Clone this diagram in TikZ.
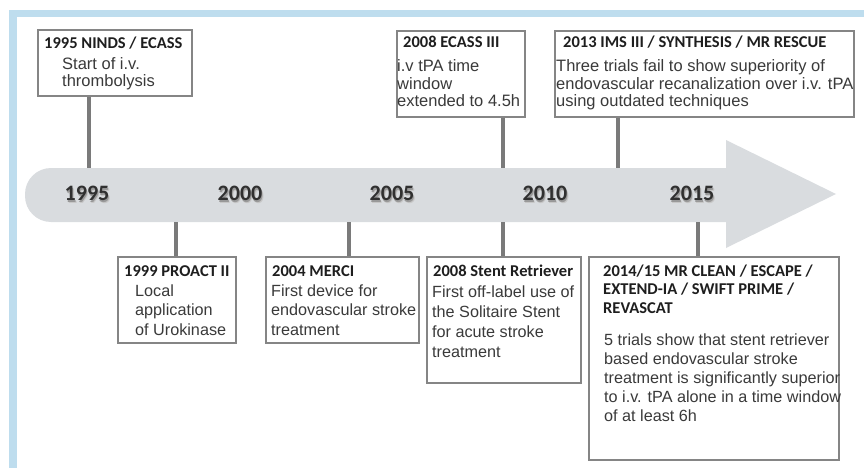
\documentclass[tikz,border=0pt]{standalone}
\usepackage{fontspec}
\setmainfont{Liberation Sans}
\newfontfamily\calib{Carlito}
\definecolor{frameblue}{HTML}{BEDDEE}
\definecolor{barfill}{HTML}{D9DCDF}
\definecolor{boxgray}{HTML}{858585}
\definecolor{stemgray}{HTML}{7A7A7A}
\definecolor{titlec}{HTML}{1E1E1E}
\definecolor{bodyc}{HTML}{3A3A3A}
\definecolor{yearc}{HTML}{303030}
\newcommand\btxt[1]{\parbox[t]{320pt}{\raggedright #1}}
\newcommand\yrshadow[1]{\rlap{\kern1.6pt\raisebox{-2.8pt}{\textcolor{black!22}{#1}}}\rlap{\kern0.8pt\raisebox{-1.4pt}{\textcolor{black!40}{#1}}}#1}
\tikzset{
  boxst/.style={draw=boxgray, line width=1.6pt, fill=white, inner sep=0pt, anchor=north west},
  ttl/.style={font=\calib\bfseries\fontsize{16.5}{19}\selectfont, text=titlec, inner sep=0pt, anchor=base west},
  bdy/.style={font=\fontsize{16.2}{#1}\selectfont, text=bodyc, inner sep=0pt, anchor=base west},
  bdy/.default=19.5,
  bdyt/.style={font=\fontsize{16.5}{#1}\selectfont, text=bodyc, inner sep=0pt, anchor=base west},
  stem/.style={draw=stemgray, line width=4.5pt},
  yr/.style={font=\calib\bfseries\fontsize{22}{22}\selectfont, text=yearc, inner sep=0pt},
}
\begin{document}
\begin{tikzpicture}[x=1pt,y=-1pt]
\useasboundingbox (0,0) rectangle (864,468);
% frame
\fill[frameblue] (9,10) rectangle (864,17);
\fill[frameblue] (9,10) rectangle (17,468);
% timeline arrow
\fill[barfill, rounded corners=26pt] (25,168) rectangle (760,222);
\fill[barfill] (726,140) -- (836,194) -- (726,248) -- cycle;
% bar coordinates
\coordinate (t1995) at (89,168);
\coordinate (t2008u) at (503,168);
\coordinate (t2013) at (618,168);
\coordinate (b1999) at (176,222);
\coordinate (b2004) at (349,222);
\coordinate (b2008) at (503,222);
\coordinate (b2015) at (698,222);
% years
\foreach \y/\x in {1995/87,2000/240,2005/392,2010/545,2015/692}{
  \node[yr] (y\y) at (\x,195) {\yrshadow{\y}};
}
% boxes
\node[boxst, minimum width=154pt, minimum height=66pt] (bx1995) at (37,29) {};
\node[boxst, minimum width=128pt, minimum height=86pt] (bx2008a) at (396,30) {};
\node[boxst, minimum width=299pt, minimum height=86pt] (bx2013) at (554,30) {};
\node[boxst, minimum width=118pt, minimum height=86pt] (bx1999) at (117,256) {};
\node[boxst, minimum width=153pt, minimum height=86pt] (bx2004) at (265,256) {};
\node[boxst, minimum width=154pt, minimum height=126pt] (bx2008b) at (426,256) {};
\node[boxst, minimum width=250pt, minimum height=203pt] (bx2015) at (588,256) {};
% stems
\draw[stem] (bx1995.south -| t1995) -- (t1995);
\draw[stem] (bx2008a.south -| t2008u) -- (t2008u);
\draw[stem] (bx2013.south -| t2013) -- (t2013);
\draw[stem] (b1999) -- (bx1999.north -| b1999);
\draw[stem] (b2004) -- (bx2004.north -| b2004);
\draw[stem] (b2008) -- (bx2008b.north -| b2008);
\draw[stem] (b2015) -- (bx2015.north -| b2015);
% texts
\node[ttl] (h1995) at (44,48.5) {1995 NINDS / ECASS};
\node[bdyt=17] (d1995) at (62,70) {\btxt{Start of i.v.\\thrombolysis}};
\node[ttl] (h2008a) at (403,48) {2008 ECASS III};
\node[bdyt=17.5] (d2008a) at (397,72) {\btxt{i.v tPA time\\window\\extended to 4.5h}};
\node[ttl] (h2013) at (563,48) {2013 IMS III / SYNTHESIS / MR RESCUE};
\node[bdyt=17.5] (d2013) at (556,72) {\btxt{Three trials fail to show superiority of\\endovascular recanalization over i.v. tPA\\using outdated techniques}};
\node[ttl] (h1999) at (124,276) {1999 PROACT II};
\node[bdy] (d1999) at (135,296) {\btxt{Local\\application\\of Urokinase}};
\node[ttl] (h2004) at (272,276) {2004 MERCI};
\node[bdy] (d2004) at (271,296) {\btxt{First device for\\endovascular stroke\\treatment}};
\node[ttl] (h2008b) at (433,276) {2008 Stent Retriever};
\node[bdy=20] (d2008b) at (432,297) {\btxt{First off-label use of\\the Solitaire Stent\\for acute stroke\\treatment}};
\node[ttl, font=\calib\bfseries\fontsize{16.5}{18.8}\selectfont] (h2015) at (603,276) {\parbox[t]{240pt}{\raggedright 2014/15 MR CLEAN / ESCAPE /\\EXTEND-IA / SWIFT PRIME /\\REVASCAT}};
\node[bdy=19.2] (d2015) at (604,345) {\btxt{5 trials show that stent retriever\\based endovascular stroke\\treatment is significantly superior\\to i.v. tPA alone in a time window\\of at least 6h}};
\end{tikzpicture}
\end{document}
